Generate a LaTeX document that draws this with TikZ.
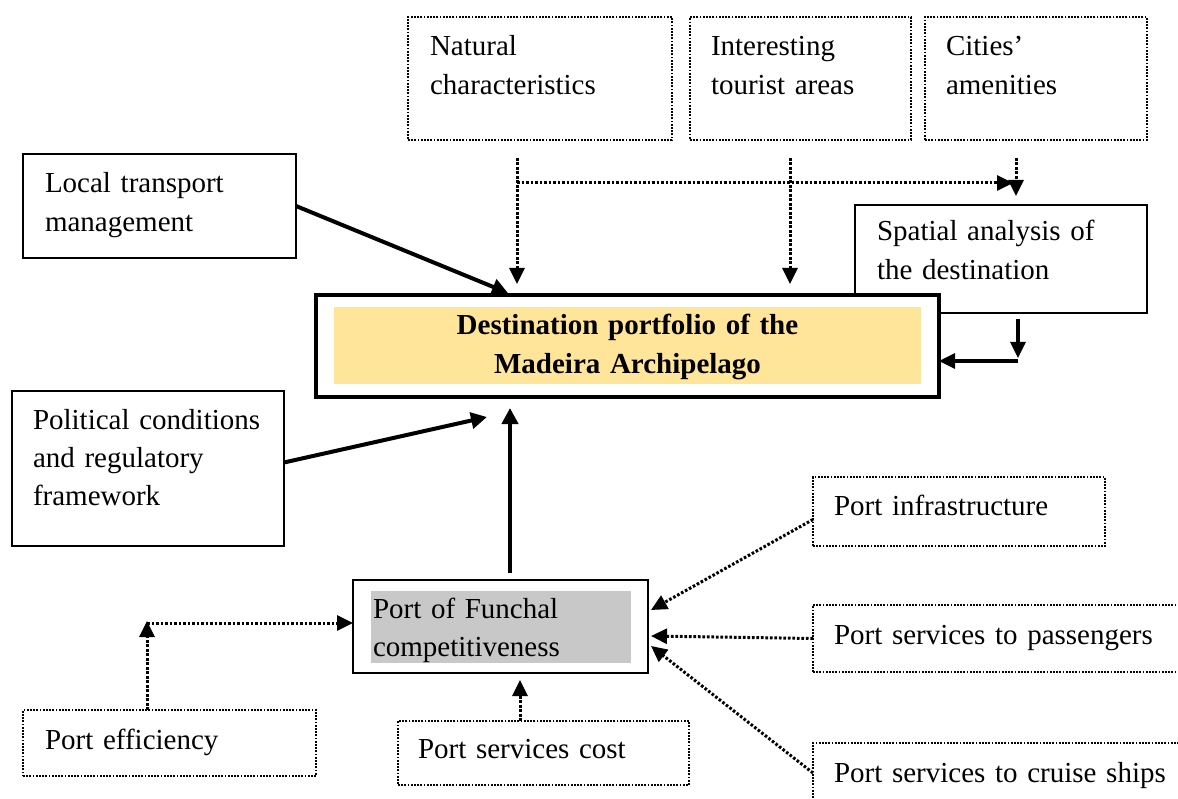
\documentclass[tikz,border=0pt]{standalone}
\usepackage{fontspec}
\setmainfont{Liberation Serif}
\usetikzlibrary{arrows.meta,calc}
\definecolor{portfolioyellow}{RGB}{255,229,153}
\definecolor{portgray}{RGB}{200,200,200}

\begin{document}
\begin{tikzpicture}[x=1pt,y=-1pt,
        factor/.style={anchor=north west,outer sep=0pt,inner ysep=0pt,align=left,
            font=\fontsize{29}{38.5}\selectfont},
        solidbox/.style={factor,draw,line width=2pt},
        dotbox/.style={factor,draw,line width=2.2pt,dash pattern=on 1.8pt off 1.4pt},
        mainarrow/.style={line width=4pt,-{Triangle[length=16pt,width=16pt]}},
        sidearrow/.style={line width=3.2pt,-{Triangle[length=16pt,width=15pt]}},
        dotarrow/.style={line width=3pt,dash pattern=on 2.6pt off 1.9pt,
            -{Triangle[length=16pt,width=15pt]}}]

        \useasboundingbox (0,0) rectangle (1178,799);

        % draw the three factor boxes on top
        \node[dotbox,text width=220pt,inner xsep=22pt,text height=39pt,text depth=84pt] (nat) at (408,17) {Natural\\characteristics};
        \node[dotbox,text width=179pt,inner xsep=21pt,text height=39pt,text depth=84pt] (tour) at (690,17) {Interesting\\tourist areas};
        \node[dotbox,text width=180pt,inner xsep=21pt,text height=39pt,text depth=84pt] (city) at (925,17) {Cities’\\amenities};

        % draw the boxes on the left and the spatial analysis
        \node[solidbox,text width=229pt,inner xsep=22pt,text height=39pt,text depth=65pt] (local) at (23,154) {Local transport\\management};
        \node[solidbox,text width=248pt,inner xsep=22pt,text height=36pt,text depth=72pt] (spatial) at (855,205) {Spatial analysis of\\the destination};
        \node[solidbox,text width=230pt,inner xsep=21pt,text height=38pt,text depth=117pt] (political) at (12,391) {Political conditions\\and regulatory\\framework};

        % draw the destination portfolio box with the yellow inner area
        \node[factor,draw,fill=white,line width=4pt,align=center,font=\fontsize{29}{38.5}\selectfont\bfseries,
            text width=560pt,inner xsep=31.5pt,text height=40pt,text depth=62pt,
            path picture={\fill[portfolioyellow] ($(path picture bounding box.north west)+(18,12)$) rectangle ($(path picture bounding box.south east)+(-18,-13)$);}]
            (main) at (316,295) {Destination portfolio of the\\Madeira Archipelago};

        % draw the port box with the gray inner area
        \node[solidbox,text width=255pt,inner xsep=20pt,text height=38pt,text depth=55pt,
            path picture={\fill[portgray] ($(path picture bounding box.north west)+(18,11)$) rectangle ($(path picture bounding box.south east)+(-17,-10)$);}]
            (port) at (353,580) {Port of Funchal\\competitiveness};

        % draw the port factor boxes
        \node[dotbox,text width=250pt,inner xsep=21pt,text height=38pt,text depth=31pt] (infra) at (813,477) {Port infrastructure};
        \node[dotbox,text width=335pt,inner xsep=21pt,text height=39pt,text depth=28pt] (pass) at (813,605) {Port services to passengers};
        \node[dotbox,text width=335pt,inner xsep=21pt,text height=39pt,text depth=21pt] (cruise) at (813,743) {Port services to cruise ships};
        \node[dotbox,text width=251pt,inner xsep=20pt,text height=37pt,text depth=27pt] (cost) at (398,721) {Port services cost};
        \node[dotbox,text width=249pt,inner xsep=22pt,text height=39pt,text depth=27pt] (eff) at (23,710) {Port efficiency};

        % solid arrows into the portfolio
        \draw[mainarrow] (local.east) -- ($(main.north west)+(192,-2)$);
        \draw[mainarrow] ($(political.east)+(0,-6)$) -- ($(main.south west)+(171,20)$);
        \draw[mainarrow] ($(port.north)+(9.5,-7)$) -- ($(main.south west)+(194,11)$);

        % dotted arrows from the top factors
        \draw[dotarrow] ($(nat.south)+(-23,18)$) -- ($(main.north west)+(201,-11)$);
        \draw[dotarrow] ($(tour.south)+(-10.5,18)$) -- ($(main.north west)+(474,-11)$);
        \draw[dotarrow] ($(city.south)+(-20,18)$) -- ($(spatial.north west)+(161,-9)$);
        \draw[dotarrow] ($(nat.south)+(-23,43)$) -- ($(spatial.north west)+(158,-22)$);

        % spatial analysis back to the portfolio
        \coordinate (spturn) at ($(spatial.south west)+(163,48)$);
        \draw[sidearrow] ($(spatial.south west)+(163,6)$) -- ($(spturn)+(0,-3)$);
        \draw[sidearrow] (spturn) -- (spturn -| main.east);

        % dotted arrows into the port
        \coordinate (effturn) at ($(eff.north west)+(124,-87)$);
        \draw[dotarrow] (effturn |- eff.north) -- ($(effturn)+(0,-2)$);
        \draw[dotarrow] (effturn) -- (effturn -| port.west);
        \draw[dotarrow] ($(cost.north west)+(122,0)$) -- ($(port.south west)+(167,7)$);
        \draw[dotarrow] ($(infra.west)+(0,8)$) -- ($(port.north east)+(3,30)$);
        \draw[dotarrow] (pass.west) -- ($(port.north east)+(3,56)$);
        \draw[dotarrow] (cruise.west) -- ($(port.north east)+(3,66)$);

    \end{tikzpicture}
\end{document}
